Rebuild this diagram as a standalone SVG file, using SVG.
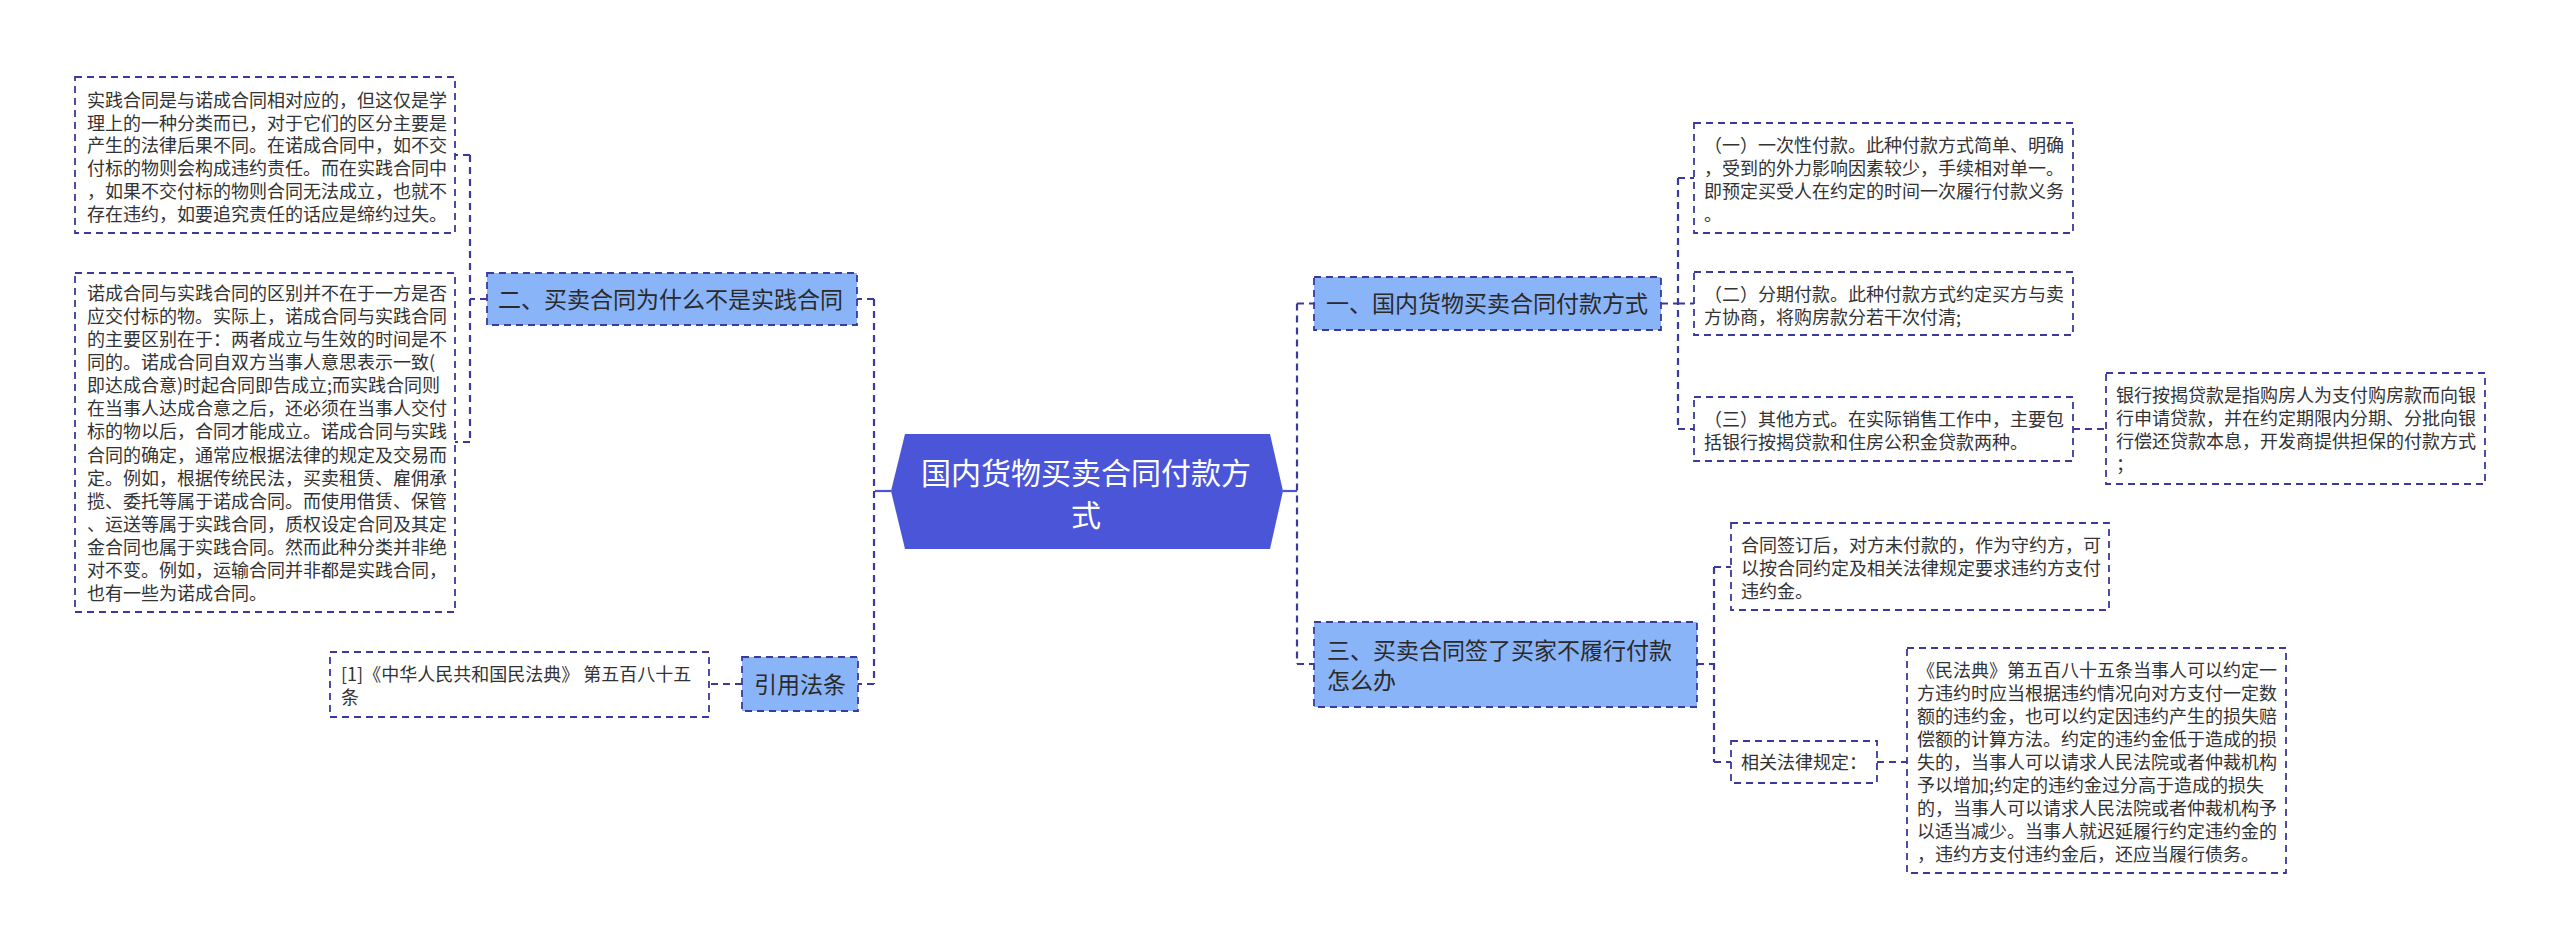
<svg xmlns="http://www.w3.org/2000/svg" width="2560" height="952" viewBox="0 0 2560 952">
<defs>
<style>
.bx{fill:#ffffff;stroke:#3b3a9c;stroke-width:1.8;stroke-dasharray:7 5}
.nd{fill:#8ab4f8;stroke:#3b3a9c;stroke-width:1.8;stroke-dasharray:7 5}
.t{font-family:"Noto Sans CJK SC","Liberation Sans",sans-serif;font-size:18px;fill:#333333}
.tn{font-family:"Noto Sans CJK SC","Liberation Sans",sans-serif;font-size:23px;fill:#2a2a2a}
.th{font-family:"Noto Sans CJK SC","Liberation Sans",sans-serif;font-size:30px;fill:#ffffff}
.c{fill:none;stroke:#3b3a9c;stroke-width:2.2;stroke-dasharray:7 5}
.cs{fill:none;stroke:#4b55d8;stroke-width:2.2}
</style>
</defs>
<rect width="2560" height="952" fill="#ffffff"/>
<g id="connectors">
<path class="cs" d="M891,491 H875"/>
<path class="c" d="M874,299 V684 M874,299 H857 M874,684 H858"/>
<path class="c" d="M487,299 H470 M470,155 V442 M470,155 H455 M470,442 H455"/>
<path class="c" d="M742,684 H709"/>
<path class="cs" d="M1283,491 H1297"/>
<path class="c" d="M1297,303.5 V664 M1297,303.5 H1314 M1297,664 H1314"/>
<path class="c" d="M1661,303.5 H1678 M1678,178 V429 M1678,178 H1694 M1678,303.5 H1694 M1678,429 H1694"/>
<path class="c" d="M2073,429 H2106"/>
<path class="c" d="M1697,664 H1714 M1714,567 V762 M1714,567 H1731 M1714,762 H1731"/>
<path class="c" d="M1877,762 H1907"/>
</g>
<g id="center">
<polygon points="891,491 905,434 1270,434 1283,491 1270,549 905,549" fill="#4b55d8"/>
<text class="th" text-anchor="middle"><tspan x="1086" y="484">国内货物买卖合同付款方</tspan><tspan x="1086" y="526">式</tspan></text>
</g>
<g id="boxA">
<rect class="bx" x="75" y="77" width="380" height="156"/>
<text class="t"><tspan x="87" y="106.8">实践合同是与诺成合同相对应的，但这仅是学</tspan><tspan x="87" dy="22.8">理上的一种分类而已，对于它们的区分主要是</tspan><tspan x="87" dy="22.8">产生的法律后果不同。在诺成合同中，如不交</tspan><tspan x="87" dy="22.8">付标的物则会构成违约责任。而在实践合同中</tspan><tspan x="87" dy="22.8">，如果不交付标的物则合同无法成立，也就不</tspan><tspan x="87" dy="22.8">存在违约，如要追究责任的话应是缔约过失。</tspan></text>
</g>
<g id="boxB">
<rect class="bx" x="75" y="273" width="380" height="339"/>
<text class="t"><tspan x="87" y="299.8">诺成合同与实践合同的区别并不在于一方是否</tspan><tspan x="87" dy="23.1">应交付标的物。实际上，诺成合同与实践合同</tspan><tspan x="87" dy="23.1">的主要区别在于：两者成立与生效的时间是不</tspan><tspan x="87" dy="23.1">同的。诺成合同自双方当事人意思表示一致(</tspan><tspan x="87" dy="23.1">即达成合意)时起合同即告成立;而实践合同则</tspan><tspan x="87" dy="23.1">在当事人达成合意之后，还必须在当事人交付</tspan><tspan x="87" dy="23.1">标的物以后，合同才能成立。诺成合同与实践</tspan><tspan x="87" dy="23.1">合同的确定，通常应根据法律的规定及交易而</tspan><tspan x="87" dy="23.1">定。例如，根据传统民法，买卖租赁、雇佣承</tspan><tspan x="87" dy="23.1">揽、委托等属于诺成合同。而使用借赁、保管</tspan><tspan x="87" dy="23.1">、运送等属于实践合同，质权设定合同及其定</tspan><tspan x="87" dy="23.1">金合同也属于实践合同。然而此种分类并非绝</tspan><tspan x="87" dy="23.1">对不变。例如，运输合同并非都是实践合同，</tspan><tspan x="87" dy="23.1">也有一些为诺成合同。</tspan></text>
</g>
<g id="node2">
<rect class="nd" x="487" y="273" width="370" height="52"/>
<text class="tn" x="498" y="307.7">二、买卖合同为什么不是实践合同</text>
</g>
<g id="refbox">
<rect class="bx" x="330" y="652" width="379" height="65"/>
<text class="t"><tspan x="341" y="680.8">[1]《中华人民共和国民法典》 第五百八十五</tspan><tspan x="341" dy="23">条</tspan></text>
</g>
<g id="nodeRef">
<rect class="nd" x="742" y="657" width="116" height="54"/>
<text class="tn" x="754" y="692.7">引用法条</text>
</g>
<g id="node1">
<rect class="nd" x="1314" y="277" width="347" height="53"/>
<text class="tn" x="1326" y="312.2">一、国内货物买卖合同付款方式</text>
</g>
<g id="box1a">
<rect class="bx" x="1694" y="123" width="379" height="110"/>
<text class="t"><tspan x="1704" y="151.8">（一）一次性付款。此种付款方式简单、明确</tspan><tspan x="1704" dy="23">，受到的外力影响因素较少，手续相对单一。</tspan><tspan x="1704" dy="23">即预定买受人在约定的时间一次履行付款义务</tspan><tspan x="1704" dy="23">。</tspan></text>
</g>
<g id="box1b">
<rect class="bx" x="1694" y="272" width="379" height="63"/>
<text class="t"><tspan x="1704" y="300.8">（二）分期付款。此种付款方式约定买方与卖</tspan><tspan x="1704" dy="23">方协商，将购房款分若干次付清;</tspan></text>
</g>
<g id="box1c">
<rect class="bx" x="1694" y="397" width="379" height="64"/>
<text class="t"><tspan x="1704" y="425.8">（三）其他方式。在实际销售工作中，主要包</tspan><tspan x="1704" dy="23">括银行按揭贷款和住房公积金贷款两种。</tspan></text>
</g>
<g id="box1d">
<rect class="bx" x="2106" y="373" width="379" height="111"/>
<text class="t"><tspan x="2116" y="401.8">银行按揭贷款是指购房人为支付购房款而向银</tspan><tspan x="2116" dy="23">行申请贷款，并在约定期限内分期、分批向银</tspan><tspan x="2116" dy="23">行偿还贷款本息，开发商提供担保的付款方式</tspan><tspan x="2116" dy="23">；</tspan></text>
</g>
<g id="node3">
<rect class="nd" x="1314" y="622" width="383" height="85"/>
<text class="tn"><tspan x="1327" y="658.7">三、买卖合同签了买家不履行付款</tspan><tspan x="1327" dy="30">怎么办</tspan></text>
</g>
<g id="box3a">
<rect class="bx" x="1731" y="523" width="378" height="87"/>
<text class="t"><tspan x="1741" y="551.8">合同签订后，对方未付款的，作为守约方，可</tspan><tspan x="1741" dy="23">以按合同约定及相关法律规定要求违约方支付</tspan><tspan x="1741" dy="23">违约金。</tspan></text>
</g>
<g id="box3b">
<rect class="bx" x="1731" y="741" width="146" height="42"/>
<text class="t" x="1741" y="768.8">相关法律规定：</text>
</g>
<g id="box3c">
<rect class="bx" x="1907" y="648" width="379" height="225"/>
<text class="t"><tspan x="1917" y="676.8">《民法典》第五百八十五条当事人可以约定一</tspan><tspan x="1917" dy="23">方违约时应当根据违约情况向对方支付一定数</tspan><tspan x="1917" dy="23">额的违约金，也可以约定因违约产生的损失赔</tspan><tspan x="1917" dy="23">偿额的计算方法。约定的违约金低于造成的损</tspan><tspan x="1917" dy="23">失的，当事人可以请求人民法院或者仲裁机构</tspan><tspan x="1917" dy="23">予以增加;约定的违约金过分高于造成的损失</tspan><tspan x="1917" dy="23">的，当事人可以请求人民法院或者仲裁机构予</tspan><tspan x="1917" dy="23">以适当减少。当事人就迟延履行约定违约金的</tspan><tspan x="1917" dy="23">，违约方支付违约金后，还应当履行债务。</tspan></text>
</g>
</svg>
